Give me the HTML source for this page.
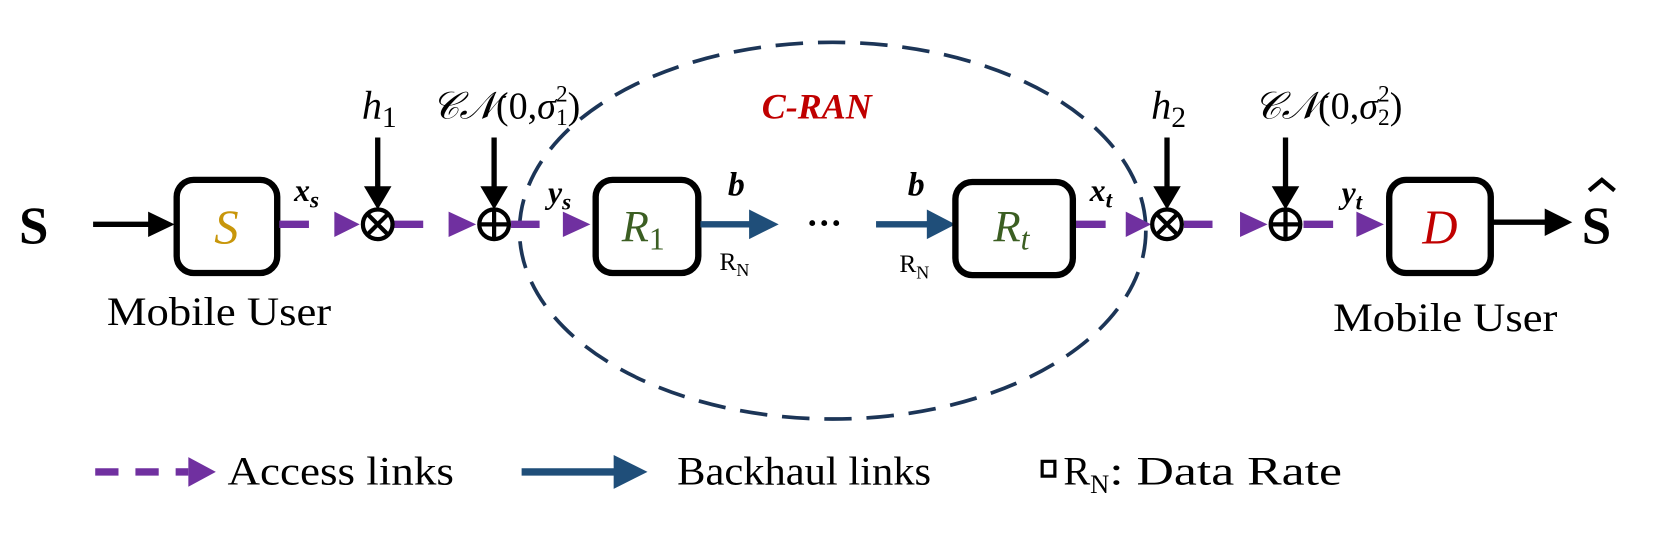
<!DOCTYPE html>
<html><head><meta charset="utf-8"><style>
html,body{margin:0;padding:0;background:#fff;}
svg{display:block;}
text{font-family:"Liberation Serif",serif;}
</style></head><body>
<svg width="1659" height="537" viewBox="0 0 1568 507.5" preserveAspectRatio="none" xmlns="http://www.w3.org/2000/svg">
<!-- ellipse -->
<ellipse cx="787" cy="218" rx="296" ry="178" fill="none" stroke="#1c3557" stroke-width="3.5" stroke-dasharray="26,14"/>
<text x="720" y="112" font-size="34" font-weight="bold" font-style="italic" fill="#c00000">C-RAN</text>

<!-- Source -->
<text x="18" y="230" font-size="50" font-weight="bold">S</text>
<line x1="88" y1="212" x2="145" y2="212" stroke="#000" stroke-width="5"/>
<polygon points="140,200 165,212 140,224" fill="#000"/>
<rect x="167" y="170" width="95" height="88" rx="16" fill="#fff" stroke="#000" stroke-width="6"/>
<text x="214" y="230" font-size="46" font-style="italic" fill="#c8960a" text-anchor="middle">S</text>
<text x="207" y="307" font-size="38" text-anchor="middle" textLength="212" lengthAdjust="spacingAndGlyphs">Mobile User</text>
<text x="278" y="190" font-size="30" font-weight="bold" font-style="italic">x<tspan font-size="22" dy="6">s</tspan></text>

<!-- purple dashes -->
<g stroke="#7030a0" stroke-width="7">
<line x1="264" y1="212" x2="292" y2="212"/>
<line x1="372" y1="212" x2="400" y2="212"/>
<line x1="483" y1="212" x2="510" y2="212"/>
<line x1="1017" y1="212" x2="1045" y2="212"/>
<line x1="1119" y1="212" x2="1146" y2="212"/>
<line x1="1232" y1="212" x2="1260" y2="212"/>
<line x1="90" y1="446" x2="112" y2="446"/>
<line x1="128" y1="446" x2="150" y2="446"/>
<line x1="166" y1="446" x2="178" y2="446"/>
</g>
<g fill="#7030a0">
<polygon points="316,200 340,212 316,224"/>
<polygon points="424,200 450,212 424,224"/>
<polygon points="532,200 558,212 532,224"/>
<polygon points="1064,200 1088,212 1064,224"/>
<polygon points="1172,200 1198,212 1172,224"/>
<polygon points="1282,200 1308,212 1282,224"/>
<polygon points="178,432 204,446 178,460"/>
</g>

<!-- otimes 1 -->
<circle cx="357" cy="212" r="14" fill="#fff" stroke="#000" stroke-width="4"/>
<line x1="347" y1="202" x2="367" y2="222" stroke="#000" stroke-width="4"/>
<line x1="367" y1="202" x2="347" y2="222" stroke="#000" stroke-width="4"/>
<line x1="357" y1="130" x2="357" y2="180" stroke="#000" stroke-width="5"/>
<polygon points="344,176 370,176 357,198" fill="#000"/>
<text x="342" y="112" font-size="38" font-style="italic">h<tspan font-size="28" font-style="normal" dy="8">1</tspan></text>
<!-- oplus 1 -->
<circle cx="467" cy="212" r="14" fill="#fff" stroke="#000" stroke-width="4"/>
<line x1="453" y1="212" x2="481" y2="212" stroke="#000" stroke-width="4"/>
<line x1="467" y1="198" x2="467" y2="226" stroke="#000" stroke-width="4"/>
<line x1="467" y1="130" x2="467" y2="180" stroke="#000" stroke-width="5"/>
<polygon points="454,176 480,176 467,198" fill="#000"/>
<text x="408" y="112" font-size="36"><tspan font-style="italic">𝒞𝒩</tspan>(0,<tspan font-style="italic">σ</tspan><tspan font-size="22" dy="6">1</tspan><tspan font-size="22" dx="-11" dy="-22">2</tspan><tspan dy="16">)</tspan></text>
<text x="518" y="192" font-size="30" font-weight="bold" font-style="italic">y<tspan font-size="22" dy="6">s</tspan></text>

<!-- R1 -->
<rect x="563" y="170" width="97" height="88" rx="16" fill="#fff" stroke="#000" stroke-width="6"/>
<text x="608" y="228" font-size="42" font-style="italic" fill="#3b5e22" text-anchor="middle">R<tspan font-size="30" font-style="normal" dy="8">1</tspan></text>
<line x1="662" y1="212" x2="712" y2="212" stroke="#1f4e79" stroke-width="6"/>
<polygon points="708,198 736,212 708,226" fill="#1f4e79"/>
<text x="688" y="185" font-size="32" font-weight="bold" font-style="italic">b</text>
<text x="680" y="255" font-size="24">R<tspan font-size="17" dy="6">N</tspan></text>
<text x="762" y="222" font-size="34" font-weight="bold">···</text>
<line x1="828" y1="212" x2="880" y2="212" stroke="#1f4e79" stroke-width="6"/>
<polygon points="876,198 903,212 876,226" fill="#1f4e79"/>
<text x="858" y="185" font-size="32" font-weight="bold" font-style="italic">b</text>
<text x="850" y="257" font-size="24">R<tspan font-size="17" dy="6">N</tspan></text>

<!-- Rt -->
<rect x="903" y="172" width="111" height="88" rx="16" fill="#fff" stroke="#000" stroke-width="6"/>
<text x="956" y="228" font-size="42" font-style="italic" fill="#3b5e22" text-anchor="middle">R<tspan font-size="30" dy="8">t</tspan></text>
<text x="1030" y="190" font-size="30" font-weight="bold" font-style="italic">x<tspan font-size="22" dy="6">t</tspan></text>

<!-- otimes 2 -->
<circle cx="1103" cy="212" r="14" fill="#fff" stroke="#000" stroke-width="4"/>
<line x1="1093" y1="202" x2="1113" y2="222" stroke="#000" stroke-width="4"/>
<line x1="1113" y1="202" x2="1093" y2="222" stroke="#000" stroke-width="4"/>
<line x1="1103" y1="130" x2="1103" y2="180" stroke="#000" stroke-width="5"/>
<polygon points="1090,176 1116,176 1103,198" fill="#000"/>
<text x="1088" y="112" font-size="38" font-style="italic">h<tspan font-size="28" font-style="normal" dy="8">2</tspan></text>
<!-- oplus 2 -->
<circle cx="1215" cy="212" r="14" fill="#fff" stroke="#000" stroke-width="4"/>
<line x1="1201" y1="212" x2="1229" y2="212" stroke="#000" stroke-width="4"/>
<line x1="1215" y1="198" x2="1215" y2="226" stroke="#000" stroke-width="4"/>
<line x1="1215" y1="130" x2="1215" y2="180" stroke="#000" stroke-width="5"/>
<polygon points="1202,176 1228,176 1215,198" fill="#000"/>
<text x="1185" y="112" font-size="36"><tspan font-style="italic">𝒞𝒩</tspan>(0,<tspan font-style="italic">σ</tspan><tspan font-size="22" dy="6">2</tspan><tspan font-size="22" dx="-11" dy="-22">2</tspan><tspan dy="16">)</tspan></text>
<text x="1268" y="192" font-size="30" font-weight="bold" font-style="italic">y<tspan font-size="22" dy="6">t</tspan></text>

<!-- D -->
<rect x="1313" y="170" width="96" height="88" rx="16" fill="#fff" stroke="#000" stroke-width="6"/>
<text x="1361" y="230" font-size="46" font-style="italic" fill="#c00000" text-anchor="middle">D</text>
<line x1="1411" y1="210" x2="1465" y2="210" stroke="#000" stroke-width="5"/>
<polygon points="1460,197 1486,210 1460,223" fill="#000"/>
<text x="1495" y="230" font-size="50" font-weight="bold">S</text>
<polyline points="1502,180 1514,170 1526,180" fill="none" stroke="#000" stroke-width="4"/>
<text x="1366" y="313" font-size="38" text-anchor="middle" textLength="212" lengthAdjust="spacingAndGlyphs">Mobile User</text>

<!-- Legend -->
<text x="215" y="458" font-size="38" textLength="214" lengthAdjust="spacingAndGlyphs">Access links</text>
<line x1="493" y1="446" x2="585" y2="446" stroke="#1f4e79" stroke-width="7"/>
<polygon points="580,430 612,446 580,462" fill="#1f4e79"/>
<text x="640" y="458" font-size="38" textLength="240" lengthAdjust="spacingAndGlyphs">Backhaul links</text>
<rect x="985" y="436" width="12" height="14" fill="none" stroke="#000" stroke-width="3"/>
<text x="1005" y="458" font-size="38">R<tspan font-size="25" dy="8">N</tspan><tspan dy="-8" textLength="220" lengthAdjust="spacingAndGlyphs">: Data Rate</tspan></text>
</svg>
</body></html>
